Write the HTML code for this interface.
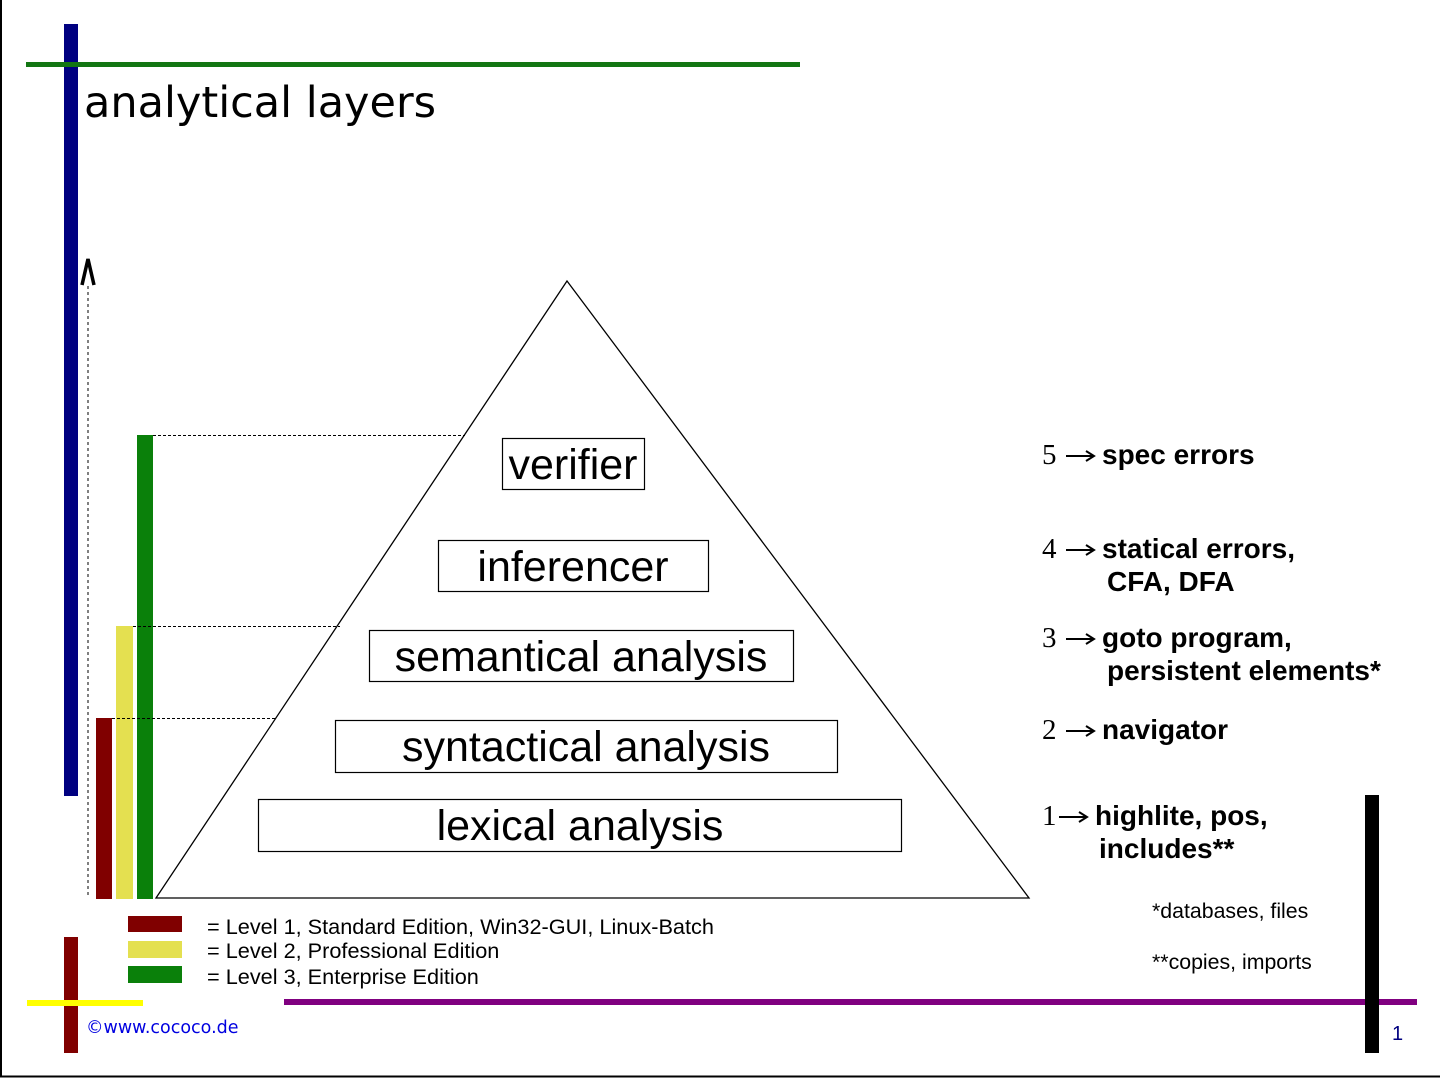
<!DOCTYPE html>
<html><head><style>body{margin:0;background:#fff}svg{display:block}</style></head><body>
<svg width="1440" height="1078" xmlns="http://www.w3.org/2000/svg" font-family="Liberation Sans, DejaVu Sans, sans-serif">
<defs><g id="ar"><line x1="0" y1="0" x2="27" y2="0" stroke="#000" stroke-width="2"/><polyline points="20,-5 28,0 20,5" fill="none" stroke="#000" stroke-width="2"/></g></defs>
<rect x="0" y="0" width="1440" height="1078" fill="#fff"/>
<line x1="1" y1="0" x2="1" y2="1077" stroke="#000" stroke-width="2"/>
<line x1="0" y1="1076.5" x2="1440" y2="1076.5" stroke="#000" stroke-width="2"/>
<rect x="64" y="24" width="14" height="772" fill="#000080"/>
<rect x="26" y="62" width="774" height="5" fill="#137613"/>
<text x="84" y="117" font-size="43" font-family="DejaVu Sans, Liberation Sans, sans-serif">analytical layers</text>
<polyline points="82,285 88,259 94,285" fill="none" stroke="#000" stroke-width="3.5"/>
<line x1="88" y1="286" x2="88" y2="898" stroke="#000" stroke-dasharray="3,3"/>
<rect x="96" y="718" width="16" height="181" fill="#800000"/>
<rect x="116" y="626" width="17" height="273" fill="#e4e050"/>
<rect x="137" y="435" width="16" height="464" fill="#0a800a"/>
<g stroke="#000" stroke-dasharray="3,2"><line x1="153" y1="435.5" x2="465" y2="435.5"/><line x1="133" y1="626.5" x2="340" y2="626.5"/><line x1="112" y1="718.5" x2="276" y2="718.5"/></g>
<polygon points="567,281 156,898 1029,898" fill="none" stroke="#000" stroke-width="1.3"/>
<g fill="#fff" stroke="#000" stroke-width="1.2">
<rect x="502.5" y="438.5" width="142" height="51"/><rect x="438.5" y="540.5" width="270" height="51"/><rect x="369.5" y="630.5" width="424" height="51"/><rect x="335.5" y="720.5" width="502" height="52"/><rect x="258.5" y="799.5" width="643" height="52"/></g>
<g font-size="43" text-anchor="middle">
<text x="573" y="479">verifier</text><text x="573" y="581">inferencer</text><text x="581" y="671">semantical analysis</text><text x="586" y="761">syntactical analysis</text><text x="580" y="840">lexical analysis</text></g>
<g font-family="Liberation Serif, serif" font-size="29">
<text x="1042" y="464">5</text><text x="1042" y="558">4</text><text x="1042" y="647">3</text><text x="1042" y="739">2</text><text x="1042" y="825">1</text>
</g>
<use href="#ar" x="1066" y="456"/><use href="#ar" x="1066" y="550"/><use href="#ar" x="1066" y="639"/><use href="#ar" x="1066" y="731"/><use href="#ar" x="1059" y="817"/>
<g font-size="28" font-weight="bold">
<text x="1102" y="464">spec errors</text>
<text x="1102" y="558">statical errors,</text>
<text x="1107" y="591">CFA, DFA</text>
<text x="1102" y="647">goto program,</text>
<text x="1107" y="680">persistent elements*</text>
<text x="1102" y="739">navigator</text>
<text x="1095" y="825">highlite, pos,</text>
<text x="1099" y="858">includes**</text></g>
<g font-size="21.3"><text x="1152" y="918">*databases, files</text><text x="1152" y="969">**copies, imports</text></g>
<rect x="128" y="916" width="54" height="16" fill="#800000"/>
<rect x="128" y="941" width="54" height="17" fill="#e4e050"/>
<rect x="128" y="966" width="54" height="17" fill="#0a800a"/>
<g font-size="21.7"><text x="207" y="934">= Level 1, Standard Edition, Win32-GUI, Linux-Batch</text><text x="207" y="958">= Level 2, Professional Edition</text><text x="207" y="984">= Level 3, Enterprise Edition</text></g>
<rect x="64" y="937" width="14" height="116" fill="#800000"/>
<rect x="27" y="1000" width="116" height="6" fill="#ffff00"/>
<rect x="284" y="999" width="1133" height="6" fill="#800080"/>
<rect x="1365" y="795" width="14" height="258" fill="#000"/>
<text x="86" y="1033" font-size="17.5" fill="#0000e0" font-family="DejaVu Sans, sans-serif">©www.cococo.de</text>
<text x="1392" y="1040" font-size="20" fill="#000080">1</text>
</svg>
</body></html>
